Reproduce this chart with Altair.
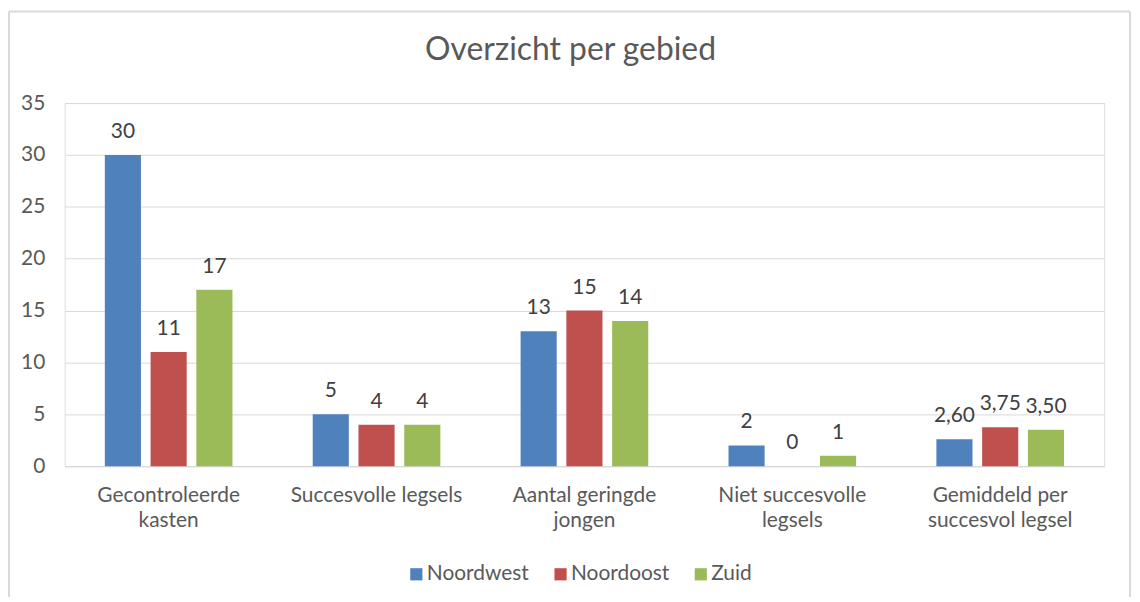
import altair as alt
import pandas as pd

categories = [
    "Gecontroleerde\nkasten",
    "Succesvolle legsels",
    "Aantal geringde\njongen",
    "Niet succesvolle\nlegsels",
    "Gemiddeld per\nsuccesvol legsel",
]
series = ["Noordwest", "Noordoost", "Zuid"]
noordwest = [30, 5, 13, 2, 2.60]
noordoost = [11, 4, 15, 0, 3.75]
zuid = [17, 4, 14, 1, 3.50]
decimals = [0, 0, 0, 0, 2]
colors = ["#4F81BD", "#C0504D", "#9BBB59"]
y_ticks = [0, 5, 10, 15, 20, 25, 30, 35]

rows = []
for s, vals in zip(series, [noordwest, noordoost, zuid]):
    for c, v, d in zip(categories, vals, decimals):
        lab = f"{v:.{d}f}".replace(".", ",")
        rows.append({"categorie": c, "gebied": s, "waarde": v, "label": lab})
df = pd.DataFrame(rows)

FONT = "Lato"
FS = 21
W, H = 1045, 365

base = alt.Chart(df).encode(
    x=alt.X(
        "categorie:N",
        sort=categories,
        title=None,
        scale=alt.Scale(paddingInner=0, paddingOuter=0),
        axis=alt.Axis(
            labelAngle=0,
            labelExpr="split(datum.value, '\\n')",
            labelLineHeight=25,
            labelBaseline="top",
            labelPadding=19,
            labelFontSize=FS,
            labelFont=FONT,
            labelColor="#595959",
            ticks=False,
            domainColor="#D9D9D9",
            domainWidth=1.5,
            grid=False,
        ),
    ),
    xOffset=alt.XOffset(
        "gebied:N",
        sort=series,
        scale=alt.Scale(paddingInner=0.211, paddingOuter=0.877),
    ),
)

bars = base.mark_bar().encode(
    y=alt.Y(
        "waarde:Q",
        title=None,
        scale=alt.Scale(domain=[0, 35], nice=False),
        axis=alt.Axis(
            values=y_ticks,
            labelFontSize=FS,
            labelFont=FONT,
            labelColor="#595959",
            labelPadding=20,
            ticks=False,
            domain=False,
            gridColor="#D9D9D9",
            gridWidth=1,
        ),
    ),
    color=alt.Color(
        "gebied:N",
        sort=series,
        scale=alt.Scale(domain=series, range=colors),
        legend=alt.Legend(
            title=None,
            orient="none",
            legendX=343,
            legendY=463,
            direction="horizontal",
            symbolType="square",
            symbolSize=150,
            symbolStrokeWidth=0,
            labelFontSize=FS,
            labelFont=FONT,
            labelColor="#595959",
            labelOffset=0,
            columnPadding=21,
        ),
    ),
)

texts = base.mark_text(
    baseline="alphabetic", dy=-17, fontSize=FS, font=FONT, color="#404040"
).encode(
    y=alt.Y("waarde:Q"),
    text="label:N",
)

frame_data = alt.Data(values=[{"a": 1}])
left_line = alt.Chart(frame_data).mark_rule(color="#D9D9D9", strokeWidth=2).encode(
    x=alt.value(-56), y=alt.value(-92), y2=alt.value(H + 140)
)
right_line = alt.Chart(frame_data).mark_rule(color="#D9D9D9", strokeWidth=2).encode(
    x=alt.value(1071), y=alt.value(-92), y2=alt.value(H + 140)
)
top_line = alt.Chart(frame_data).mark_rule(color="#D9D9D9", strokeWidth=2).encode(
    x=alt.value(-56), x2=alt.value(1071), y=alt.value(-92)
)

chart = (
    alt.layer(bars, texts, left_line, right_line, top_line)
    .properties(
        width=W,
        height=H,
        padding={"left": 57, "top": 94, "right": 28, "bottom": 130},
        autosize=alt.AutoSizeParams(type="none"),
        title=alt.TitleParams(
            "Overzicht per gebied",
            font=FONT,
            fontSize=32,
            fontWeight="normal",
            color="#595959",
            anchor="middle",
            dx=-14,
            offset=-82,
            baseline="alphabetic",
        ),
    )
    .configure_view(stroke=None)
    .configure(background="white")
)

chart.save("out.html", embed_options={"renderer": "svg", "actions": False})
